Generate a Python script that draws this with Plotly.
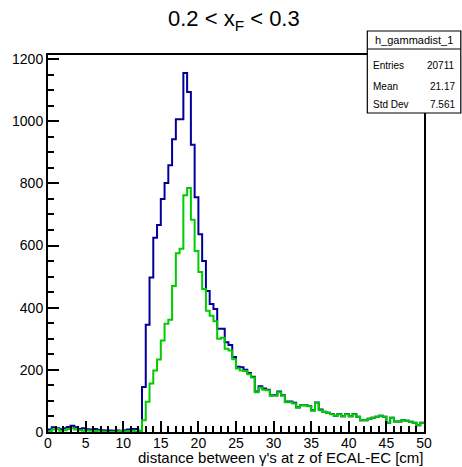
import numpy as np
import plotly.graph_objects as go

# ---- data (0.5 cm bins from 0 to 50) ----
bin_lo = 0.0
bin_width = 0.5

blue_counts = [8, 15, 12, 9, 12, 16, 20, 15, 10, 12, 9, 8, 10, 7, 6, 5, 5, 4, 5, 4, 6, 8, 10, 10, 4,
               145, 345, 497, 625, 666, 750, 801, 858, 942, 1006, 1006, 1155, 1094, 924, 755, 636,
               550, 454, 412, 396, 332, 332, 289, 280, 241, 210, 208, 200, 190, 178,
               130, 147, 140, 136, 118, 118, 130, 118, 98, 98, 94, 80, 86, 86, 84, 70, 95, 72,
               65, 62, 58, 52, 58, 51, 58, 51, 58, 49, 38, 38, 43, 46, 49, 52, 49, 30, 46, 34, 34, 38, 36, 33, 30, 22, 30]

green_counts = [2, 8, 10, 4, 6, 10, 12, 8, 6, 4, 5, 4, 3, 4, 2, 1, 0, 1, 2, 3, 2, 3, 4, 2, 3,
                38, 97, 156, 198, 233, 294, 348, 361, 470, 575, 590, 762, 785, 683, 582, 515,
                460, 390, 374, 356, 300, 303, 268, 262, 234, 204, 198, 196, 186, 175,
                128, 143, 136, 134, 117, 117, 128, 117, 96, 96, 92, 78, 86, 86, 83, 68, 93, 70,
                64, 62, 57, 52, 57, 51, 57, 51, 57, 49, 38, 38, 43, 46, 49, 52, 49, 30, 46, 34, 34, 38, 36, 33, 30, 22, 30]

title_text = "0.2 < x<sub>F</sub> < 0.3"
x_title = "distance between γ's at z of ECAL-EC [cm]"
stats_name = "h_gammadist_1"
stats_labels = ["Entries", "Mean", "Std Dev"]
stats_values = ["20711", "21.17", "7.561"]

FONT = "Liberation Sans, Arial, Helvetica, sans-serif"

def step_xy(counts):
    n = len(counts)
    edges = bin_lo + bin_width * np.arange(n + 1)
    x = np.concatenate([[edges[0]], edges])
    y = np.concatenate([[0], counts, [counts[-1]]])
    return x, y

fig = go.Figure()
for counts, color in [(blue_counts, "#000099"), (green_counts, "#00cc00")]:
    x, y = step_xy(counts)
    fig.add_trace(go.Scatter(x=x, y=y, mode="lines", line=dict(color=color, width=2, shape="hv"),
                             hoverinfo="skip", showlegend=False))

W, H = 462, 467
L, R, T, B = 46, 38, 55, 35
pw, ph = W - L - R, H - T - B

def px(xp):
    return (xp - L) / pw

def py(yp):
    return (H - B - yp) / ph

axis_common = dict(showline=True, linecolor="black", linewidth=2, mirror=True,
                   ticks="inside", tickcolor="black", tickwidth=1.5,
                   showgrid=False, zeroline=False,
                   tickfont=dict(family=FONT, size=14, color="black"))

fig.update_xaxes(range=[0, 50], dtick=5, tick0=0, ticklen=11, ticklabelstandoff=-3,
                 minor=dict(dtick=1, ticks="inside", ticklen=6, tickcolor="black", tickwidth=1.5),
                 **axis_common)
fig.update_yaxes(range=[0, 1213], dtick=200, tick0=0, ticklen=11,
                 minor=dict(dtick=50, ticks="inside", ticklen=6, tickcolor="black", tickwidth=1.5),
                 **axis_common)

annotations = [
    dict(text=title_text, x=px(233), y=py(20), xref="paper", yref="paper",
         showarrow=False, font=dict(family=FONT, size=22, color="black"),
         xanchor="center", yanchor="middle"),
    dict(text=x_title, x=1, y=py(467), xref="paper", yref="paper",
         showarrow=False, font=dict(family=FONT, size=15, color="black"),
         xanchor="right", yanchor="bottom", borderpad=0),
    dict(text=stats_name, x=px(414), y=py(40), xref="paper", yref="paper",
         showarrow=False, font=dict(family=FONT, size=11, color="black"),
         xanchor="center", yanchor="middle"),
]
row_y = [65, 86, 104]
for lab, val, yy in zip(stats_labels, stats_values, row_y):
    annotations.append(dict(text=lab, x=px(371), y=py(yy), xref="paper", yref="paper",
                            showarrow=False, font=dict(family=FONT, size=10, color="black"),
                            xanchor="left", yanchor="middle"))
    annotations.append(dict(text=val, x=px(457), y=py(yy), xref="paper", yref="paper",
                            showarrow=False, font=dict(family=FONT, size=10, color="black"),
                            xanchor="right", yanchor="middle"))

shapes = [
    dict(type="rect", xref="paper", yref="paper", x0=px(367), x1=px(461), y0=py(113), y1=py(31),
         line=dict(color="black", width=1.2), fillcolor="white", layer="above"),
    dict(type="line", xref="paper", yref="paper", x0=px(367), x1=px(461), y0=py(49), y1=py(49),
         line=dict(color="black", width=1), layer="above"),
]

fig.update_layout(width=W, height=H, margin=dict(l=L, r=R, t=T, b=B),
                  paper_bgcolor="white", plot_bgcolor="white",
                  annotations=annotations, shapes=shapes, showlegend=False)

fig.write_html("out.html")
